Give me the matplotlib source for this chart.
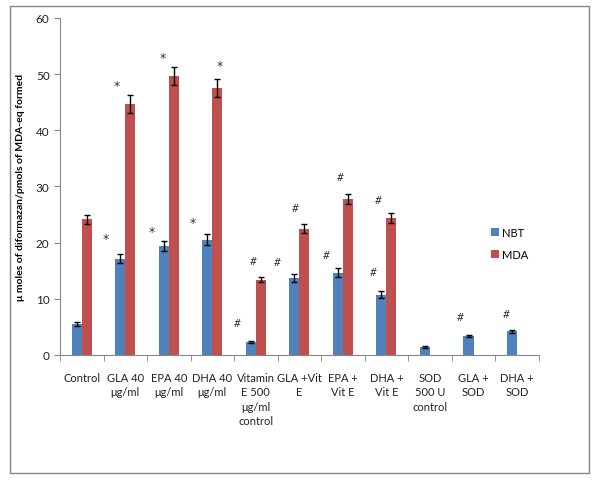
import numpy as np
import matplotlib.pyplot as plt
from matplotlib.patches import Rectangle

plt.rcParams['font.family'] = ['Lato', 'DejaVu Sans']

# categories and values
categories = ["Control", "GLA 40\nμg/ml", "EPA 40\nμg/ml", "DHA 40\nμg/ml",
              "Vitamin\nE 500\nμg/ml\ncontrol", "GLA +Vit\nE", "EPA +\nVit E",
              "DHA +\nVit E", "SOD\n500 U\ncontrol", "GLA +\nSOD", "DHA +\nSOD"]
nbt = [5.5, 17.1, 19.4, 20.5, 2.3, 13.7, 14.6, 10.7, 1.4, 3.4, 4.2]
nbt_err = [0.3, 0.8, 0.9, 1.0, 0.2, 0.7, 0.8, 0.6, 0.15, 0.2, 0.3]
mda = [24.2, 44.7, 49.7, 47.5, 13.4, 22.5, 27.8, 24.4, 0, 0, 0]
mda_err = [0.8, 1.6, 1.6, 1.6, 0.5, 0.8, 0.9, 0.9, 0, 0, 0]

# significance marks: (category, x shift, label, height)
marks = [(1, -0.45, '*', 21.3), (1, -0.19, '*', 48.6),
         (2, -0.39, '*', 22.6), (2, -0.14, '*', 53.6),
         (3, -0.45, '*', 24.2), (3, 0.17, '*', 52.2),
         (4, -0.42, '#', 5.7), (4, -0.07, '#', 16.9),
         (5, -0.50, '#', 16.7), (5, -0.09, '#', 26.2),
         (6, -0.38, '#', 17.8), (6, -0.06, '#', 31.7),
         (7, -0.30, '#', 14.8), (7, -0.18, '#', 27.6),
         (9, -0.30, '#', 6.9), (10, -0.25, '#', 7.3)]

blue = '#4F81BD'
red = '#C0504D'
grey = '#868686'

fig = plt.figure(figsize=(6, 4.81), dpi=100)
ax = fig.add_axes([0.1, 0.26, 0.798, 0.7005])

x = np.arange(len(categories))
w = 0.23
err_kw = dict(ecolor='black', elinewidth=1, capsize=2.5, capthick=1)
ax.bar(x - w / 2, nbt, w, yerr=nbt_err, color=blue, label='NBT', error_kw=err_kw)
mda_plot = [v if v > 0 else np.nan for v in mda]
mda_e = [e if e > 0 else np.nan for e in mda_err]
ax.bar(x + w / 2, mda_plot, w, yerr=mda_e, color=red, label='MDA', error_kw=err_kw)

for c, dx, lab, h in marks:
    if lab == '*':
        ax.text(c + dx, h - 0.6, lab, ha='center', va='center', fontsize=9,
                color='#333333', family='DejaVu Sans')
    else:
        ax.text(c + dx, h, lab, ha='center', va='center', fontsize=8.5,
                color='#333333', style='italic')

ax.set_xlim(-0.5, len(categories) - 0.5)
ax.set_ylim(0, 60)
ax.set_yticks(range(0, 61, 10))
ax.set_xticks(x)
ax.set_xticklabels(categories, fontsize=8, color='#222222', linespacing=1.4)
ax.set_xticks(np.arange(-0.5, len(categories), 1), minor=True)
ax.tick_params(axis='x', which='major', length=0, pad=12)
ax.tick_params(axis='x', which='minor', length=4, color=grey, direction='out')
ax.tick_params(axis='y', length=4, color=grey, labelsize=8.5, labelcolor='#222222')
for side in ['top', 'right']:
    ax.spines[side].set_visible(False)
ax.spines['left'].set_color(grey)
ax.spines['bottom'].set_color(grey)

ax.set_ylabel('μ moles of diformazan/pmols of MDA-eq formed', fontsize=7.5,
              fontweight='bold', labelpad=8)

ax.legend(loc='upper left', bbox_to_anchor=(0.88, 0.41), frameon=False,
          fontsize=8, handlelength=0.7, handleheight=0.7, handletextpad=0.3,
          labelspacing=1.0)

fig.patches.append(Rectangle((10 / 600, 7 / 481), 579 / 600, 467 / 481,
                             transform=fig.transFigure, fill=False,
                             edgecolor=grey, linewidth=1))

fig.savefig('out.png', dpi=100)
